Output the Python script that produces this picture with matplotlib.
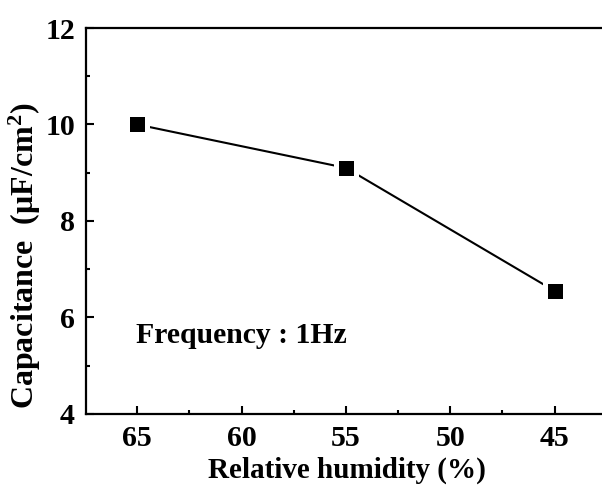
import matplotlib
matplotlib.use("Agg")
from matplotlib import pyplot as plt
from matplotlib.ticker import MultipleLocator

# values
humidity = [65, 55, 45]
capacitance = [10.0, 9.1, 6.55]
x_ticks = [65, 60, 55, 50, 45]
y_ticks = [4, 6, 8, 10, 12]

plt.rcParams['font.family'] = ['Liberation Serif', 'DejaVu Serif']
plt.rcParams['font.weight'] = 'bold'
plt.rcParams['mathtext.default'] = 'regular'

fig = plt.figure(figsize=(6.02, 4.87), dpi=100)
# right edge of the frame runs a little past the picture, as in the reference
ax = fig.add_axes([0.143, 0.150, 0.865, 0.7925])

# white marker edge leaves the small gap between line and squares
ax.plot(humidity, capacitance, color='black', lw=1.5, marker='s',
        ms=14.4, mfc='black', mec='white', mew=3.6)

ax.set_xlim(67.45, 42.5)
ax.set_ylim(4, 12)
ax.set_xticks(x_ticks)
ax.set_yticks(y_ticks)
ax.xaxis.set_minor_locator(MultipleLocator(2.5))
ax.yaxis.set_minor_locator(MultipleLocator(1))

ax.tick_params(which='both', direction='in', top=False, right=False,
               labelsize=21.5, width=1.5)
ax.tick_params(which='major', length=6)
ax.tick_params(axis='x', which='major', pad=8)
ax.tick_params(axis='y', which='major', pad=8)
ax.tick_params(which='minor', length=3)
for s in ax.spines.values():
    s.set_linewidth(1.6)

ax.set_xlabel('Relative humidity (%)', fontsize=21, fontweight='bold', labelpad=3)
ax.set_ylabel('Capacitance  (\u03bcF/cm$^2$)', fontsize=23, fontweight='bold')
ax.yaxis.set_label_coords(-0.082, 0.41)

ax.text(65.05, 5.62, 'Frequency : 1Hz', fontsize=21.4, fontweight='bold',
        ha='left', va='center')

fig.savefig('out.png', dpi=100)
